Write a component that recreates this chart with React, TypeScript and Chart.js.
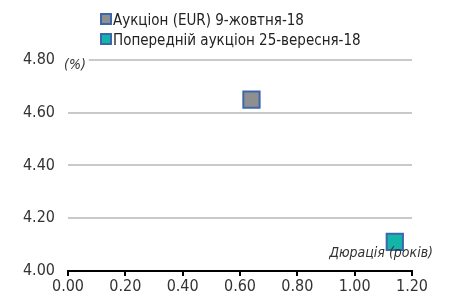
import React, { useEffect, useRef } from "react";
import { Chart, registerables } from "chart.js";

Chart.register(...registerables);

const seriesNames = ["Аукціон (EUR) 9-жовтня-18", "Попередній аукціон 25-вересня-18"];
const durations = [0.64, 1.14];
const yields = [4.65, 4.11];
const fillColors = ["#8f8f8f", "#12b5a8"];
const xTicks = [0, 0.2, 0.4, 0.6, 0.8, 1.0, 1.2];
const yTicks = [4.0, 4.2, 4.4, 4.6, 4.8];
const yAxisTitle = "(%)";
const xAxisTitle = "Дюрація (років)";

const FONT = "'Liberation Sans Narrow', 'DejaVu Sans Condensed', Arial, sans-serif";

export default function App() {
  const ref = useRef<HTMLCanvasElement | null>(null);
  useEffect(() => {
    document.body.style.margin = "0";
    const canvas = ref.current!;
    const overlay = {
      id: "overlay",
      afterDraw(chart: any) {
        const ctx = chart.ctx;
        const area = chart.chartArea;
        ctx.save();
        // legend
        chart.data.datasets.forEach((ds: any, i: number) => {
          const y = 19 + i * 20;
          ctx.fillStyle = ds.backgroundColor;
          ctx.strokeStyle = "#3d67ad";
          ctx.lineWidth = 2;
          ctx.fillRect(101, y - 5, 10, 10);
          ctx.strokeRect(101, y - 5, 10, 10);
          ctx.fillStyle = "#222";
          ctx.font = `15px ${FONT}`;
          ctx.textBaseline = "middle";
          ctx.textAlign = "left";
          ctx.fillText(ds.label, 113, y + 2);
        });
        // y title
        ctx.font = `italic 14px ${FONT}`;
        ctx.textBaseline = "middle";
        ctx.textAlign = "left";
        const wy = ctx.measureText(yAxisTitle).width;
        ctx.fillStyle = "#fff";
        ctx.fillRect(area.left - 6, area.top - 4, wy + 5, 10);
        ctx.fillStyle = "#333";
        ctx.fillText(yAxisTitle, area.left - 4, area.top + 5);
        // x title
        ctx.textAlign = "right";
        ctx.fillText(xAxisTitle, area.right + 21, area.bottom - 18);
        ctx.restore();
      },
    };
    const chart = new Chart(canvas, {
      type: "scatter",
      data: {
        datasets: seriesNames.map((name, i) => ({
          label: name,
          data: [{ x: durations[i], y: yields[i] }],
          backgroundColor: fillColors[i],
          borderColor: "#3d67ad",
          borderWidth: 2,
          pointStyle: "rect",
          pointRadius: 11.5,
          pointHoverRadius: 11.5,
        })),
      },
      options: {
        responsive: false,
        animation: false,
        layout: { padding: { left: 0, right: 39, top: 60, bottom: 0 } },
        plugins: { legend: { display: false }, tooltip: { enabled: false } },
        scales: {
          x: {
            type: "linear",
            min: 0,
            max: 1.2,
            afterBuildTicks: (s: any) => {
              s.ticks = xTicks.map((v) => ({ value: v }));
            },
            afterFit: (s: any) => {
              s.height = 27;
            },
            border: { display: true, color: "#000", width: 2 },
            grid: {
              display: true,
              drawOnChartArea: false,
              drawTicks: true,
              tickLength: 5,
              color: "#000",
              lineWidth: 2,
            },
            ticks: {
              font: { family: FONT, size: 16 },
              color: "#333",
              padding: 1,
              maxRotation: 0,
              callback: (v: any) => Number(v).toFixed(2),
            },
          },
          y: {
            type: "linear",
            min: 4.0,
            max: 4.8,
            afterBuildTicks: (s: any) => {
              s.ticks = yTicks.map((v) => ({ value: v }));
            },
            afterFit: (s: any) => {
              s.width = 68;
            },
            border: { display: false },
            grid: { color: "#c8cac8", lineWidth: 2, drawTicks: false },
            ticks: {
              font: { family: FONT, size: 16 },
              color: "#333",
              padding: 13,
              callback: (v: any) => Number(v).toFixed(2),
            },
          },
        },
      },
      plugins: [overlay],
    } as any);
    return () => chart.destroy();
  }, []);
  return <canvas ref={ref} width={451} height={298} style={{ display: "block" }} />;
}
